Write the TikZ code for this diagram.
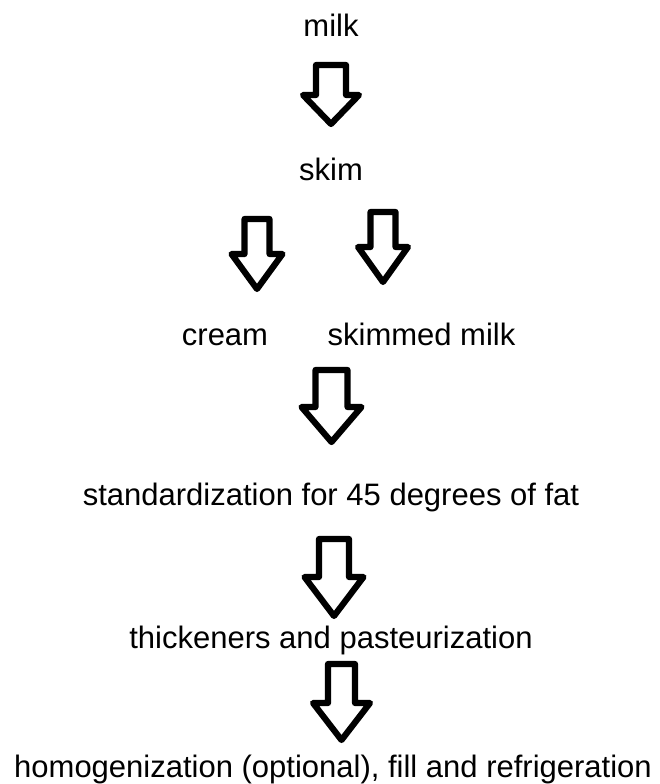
\documentclass[tikz,border=0pt]{standalone}
\usepackage{fontspec}
\setmainfont{Liberation Sans}
% block arrow: centre x, top y, shoulder y, tip y, shaft half width, head half width
\newcommand\blockarr[6]{%
  \draw[arrowline] (#1-#5,#2) -- (#1+#5,#2) -- (#1+#5,#3) -- (#1+#6,#3)
    -- (#1,#4) -- (#1-#6,#3) -- (#1-#5,#3) -- cycle;}
\begin{document}
\begin{tikzpicture}[x=1pt,y=-1pt,
  label/.style={anchor=base,inner sep=0pt,outer sep=0pt,text=black,
    font=\fontsize{31}{37}\selectfont},
  arrowline/.style={draw=black,fill=white,line width=6.2pt,line join=round}]
\useasboundingbox[fill=white] (0,0) rectangle (660,784);

\node[label] (milk) at (331,37) {milk};
\node[label] (skim) at (331,180) {skim};
\node[label] (cream) at (225,345) {cream};
\node[label] (skimmed) at (421.5,345) {skimmed milk};
\node[label] (std) at (331,505) {standardization for 45 degrees of fat};
\node[label] (thick) at (331,648) {thickeners and pasteurization};
\node[label] (homog) at (333,777) {homogenization (optional), fill and refrigeration};

\blockarr{331}{65}{95}{124}{15}{28}
\blockarr{257}{219}{254}{289}{12.5}{25.5}
\blockarr{383}{212}{247}{282}{12.5}{25}
\blockarr{331.5}{370}{407}{442}{16}{30}
\blockarr{334}{539}{577}{616}{15}{29.5}
\blockarr{341.5}{664}{703}{740}{13.5}{28.5}
\end{tikzpicture}
\end{document}
